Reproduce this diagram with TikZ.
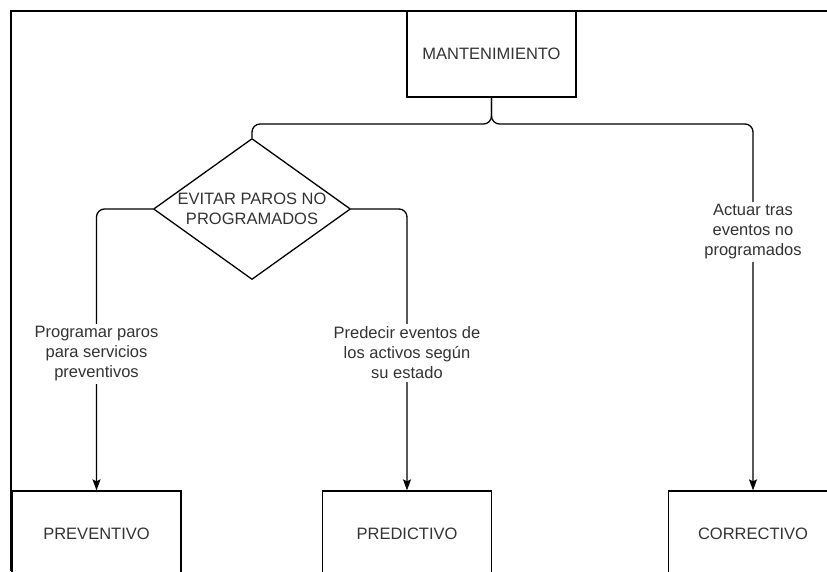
\documentclass[tikz,border=0pt]{standalone}
\usepackage{fontspec}
\setmainfont{Liberation Sans}
\usetikzlibrary{shapes.geometric,arrows.meta}
\newcommand\diagfont{\fontsize{16.5}{20}\selectfont}
\definecolor{txt}{rgb}{0.2,0.2,0.2}
\begin{document}
\begin{tikzpicture}[x=1pt,y=-1pt,
  box/.style={draw, line width=1.3pt, minimum width=169pt, minimum height=86pt, inner sep=0pt, font=\diagfont, text=txt},
  lbl/.style={fill=white, align=center, font=\diagfont, text=txt, inner sep=3pt},
  conn/.style={line width=1.3pt, rounded corners=8pt},
  arr/.style={conn, -{Stealth[length=11pt,width=8pt,inset=2pt]}}
]
\useasboundingbox (0,0) rectangle (827,571);
\draw[line width=2pt] (11,571) -- (11,11) -- (827,11);

\node[box] (man) at (491.5,54) {MANTENIMIENTO};
\node[draw, diamond, line width=1.3pt, minimum width=197pt, minimum height=141pt, inner sep=0pt] (dia) at (252,209) {};
\node[align=center, font=\diagfont, text=txt, inner sep=0pt] (diatext) at (dia.center) {EVITAR PAROS NO\\PROGRAMADOS};
\node[box] (prev) at (96.5,534) {PREVENTIVO};
\node[box] (pred) at (407,534) {PREDICTIVO};
\node[box] (corr) at (753,534) {CORRECTIVO};

\coordinate (j) at (491.5,124);
\draw[conn] (man.south) -- (j) -- (252,124) -- (dia.north);
\draw[arr] (man.south) -- (j) -- (753,124) -- (corr.north);
\draw[arr] (dia.west) -- (96.5,209) -- (prev.north);
\draw[arr] (dia.east) -- (407,209) -- (pred.north);

\node[lbl] (l1) at (96.5,354) {Programar paros\\para servicios\\preventivos};
\node[lbl] (l2) at (407,353) {Predecir eventos de\\los activos según\\su estado};
\node[lbl] (l3) at (753,232) {Actuar tras\\eventos no\\programados};
\end{tikzpicture}
\end{document}
